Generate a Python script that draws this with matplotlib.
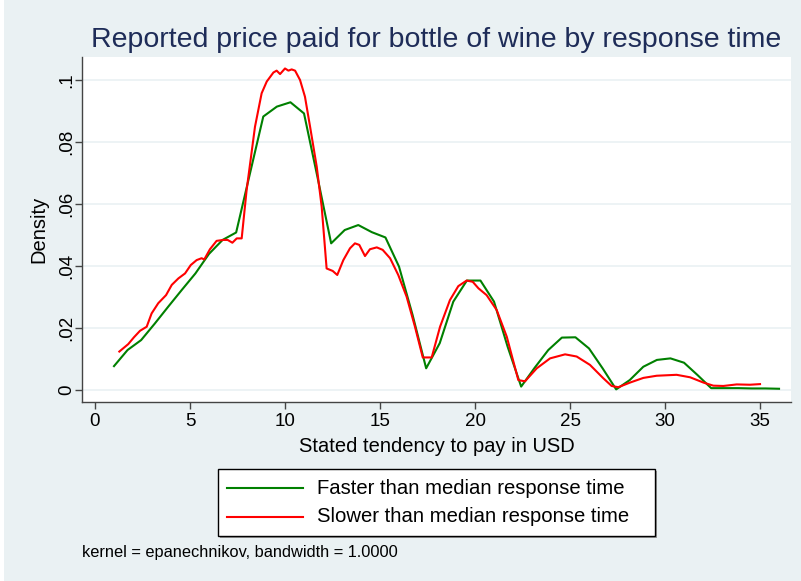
import numpy as np
import matplotlib
matplotlib.use('Agg')
import matplotlib.pyplot as plt
import matplotlib.patches as patches

# faster group: kdensity evaluated on 50 points between 1 and 36
fast_x = np.linspace(1, 36, 50)
fast_y = [0.0077, 0.0129, 0.0161, 0.0214, 0.0269, 0.0323, 0.0376, 0.0439, 0.0484, 0.0508,
          0.0695, 0.0882, 0.0914, 0.0928, 0.0892, 0.0685, 0.0473, 0.0516, 0.0532, 0.0509,
          0.0492, 0.0398, 0.0242, 0.0070, 0.0151, 0.0285, 0.0353, 0.0353, 0.0285, 0.0140,
          0.0011, 0.0072, 0.0129, 0.0169, 0.0170, 0.0134, 0.0070, 0.0002, 0.0032, 0.0075,
          0.0097, 0.0102, 0.0088, 0.0048, 0.0006, 0.0006, 0.0006, 0.0005, 0.0005, 0.0004]

# slower group
slow_x = [1.28, 1.75, 2.05, 2.37, 2.72, 2.98, 3.33, 3.74, 4.04, 4.39, 4.74, 5.04, 5.35, 5.61,
          5.75, 6.05, 6.40, 6.75, 6.98, 7.23, 7.46, 7.72, 7.98, 8.42, 8.77, 9.04, 9.39, 9.56,
          9.74, 10.0, 10.18, 10.35, 10.53, 10.79, 11.05, 11.32, 11.67, 11.93, 12.19, 12.51,
          12.75, 13.07, 13.42, 13.68, 13.91, 14.21, 14.47, 14.83, 15.14, 15.53, 15.96, 16.40,
          16.84, 17.25, 17.72, 18.16, 18.68, 19.12, 19.56, 19.88, 20.18, 20.61, 21.14, 21.67,
          22.28, 22.63, 23.25, 23.95, 24.74, 25.35, 26.05, 26.75, 27.19, 27.54, 28.16, 28.86,
          29.56, 30.61, 31.32, 32.02, 32.54, 33.07, 33.77, 34.47, 35.0]
slow_y = [0.0124, 0.0148, 0.0170, 0.0191, 0.0204, 0.0247, 0.0280, 0.0306, 0.0339, 0.0360,
          0.0376, 0.0403, 0.0419, 0.0425, 0.0421, 0.0454, 0.0481, 0.0484, 0.0484, 0.0475,
          0.0489, 0.0489, 0.0645, 0.0849, 0.0957, 0.0995, 0.1024, 0.1030, 0.1019, 0.1037,
          0.1030, 0.1034, 0.1030, 0.1000, 0.0946, 0.0849, 0.0720, 0.0591, 0.0392, 0.0384,
          0.0371, 0.0419, 0.0457, 0.0473, 0.0468, 0.0432, 0.0454, 0.0460, 0.0452, 0.0425,
          0.0371, 0.0301, 0.0204, 0.0105, 0.0105, 0.0204, 0.0290, 0.0335, 0.0353, 0.0349,
          0.0328, 0.0306, 0.0258, 0.0172, 0.0032, 0.0028, 0.0070, 0.0102, 0.0115, 0.0108,
          0.0081, 0.0038, 0.0013, 0.0009, 0.0024, 0.0039, 0.0046, 0.0049, 0.0041, 0.0024,
          0.0014, 0.0013, 0.0018, 0.0017, 0.0019]

xticks = [0, 5, 10, 15, 20, 25, 30, 35]
yticks = [0, 0.02, 0.04, 0.06, 0.08, 0.1]
ylabels = ['0', '.02', '.04', '.06', '.08', '.1']

bg = '#EAF1F3'
plt.rcParams['font.family'] = ['Liberation Sans', 'DejaVu Sans']

fig = plt.figure(figsize=(8.01, 5.81), dpi=100, facecolor=bg)
# thin white strip at the left edge
fig.patches.append(patches.Rectangle((0, 0), 4/801, 1, transform=fig.transFigure,
                                     facecolor='white', edgecolor='none', zorder=0))

ax = fig.add_axes([82/801, 1-402/581, 709/801, 345/581])
ax.set_facecolor('white')
ax.plot(fast_x, fast_y, color='#008000', lw=1.5, zorder=3)
ax.plot(slow_x, slow_y, color='#FF0000', lw=1.5, zorder=3)

ax.set_xlim(-0.684, 36.63)
ax.set_ylim(-0.00387, 0.1074)
ax.set_xticks(xticks)
ax.set_yticks(yticks)
ax.set_yticklabels(ylabels, rotation=90, va='center')
for y in yticks:
    ax.axhline(y, color='#EAF1F3', lw=1.2, zorder=1)

for s in ['top', 'right']:
    ax.spines[s].set_visible(False)
for s in ['left', 'bottom']:
    ax.spines[s].set_color('#444444')
    ax.spines[s].set_linewidth(1.0)
ax.tick_params(direction='out', length=5, width=1, color='#444444', labelsize=13.5)
ax.tick_params(axis='x', pad=3)
ax.tick_params(axis='y', pad=0)

ax.set_xlabel('Stated tendency to pay in USD', fontsize=14.5, labelpad=5)
ax.set_ylabel('Density', fontsize=14.5, labelpad=7)
ax.set_title('Reported price paid for bottle of wine by response time',
             fontsize=20.5, color='#1E2C58', pad=7)

# legend box below the plot
lx0, ly0, lx1, ly1 = 218/801, 1-536/581, 655/801, 1-469/581
fig.patches.append(patches.Rectangle((lx0+1.5/801, ly0-1.5/581), lx1-lx0, ly1-ly0,
                                     transform=fig.transFigure, facecolor='#999999',
                                     edgecolor='none', zorder=1))
fig.patches.append(patches.Rectangle((lx0, ly0), lx1-lx0, ly1-ly0, transform=fig.transFigure,
                                     facecolor='white', edgecolor='black', lw=1, zorder=2))
names = ['Faster than median response time', 'Slower than median response time']
colors = ['#008000', '#FF0000']
for i, (nm, c) in enumerate(zip(names, colors)):
    yy = 1 - (488 + 29*i)/581
    fig.add_artist(plt.Line2D([227/801, 303/801], [yy, yy], color=c, lw=1.5,
                              transform=fig.transFigure, zorder=3))
    fig.text(317/801, yy, nm, fontsize=14.6, va='center', ha='left', zorder=3)

fig.text(82/801, 1-553/581, 'kernel = epanechnikov, bandwidth = 1.0000', fontsize=11.8,
         va='center', ha='left')

fig.savefig('out.png', dpi=100, facecolor=bg)
